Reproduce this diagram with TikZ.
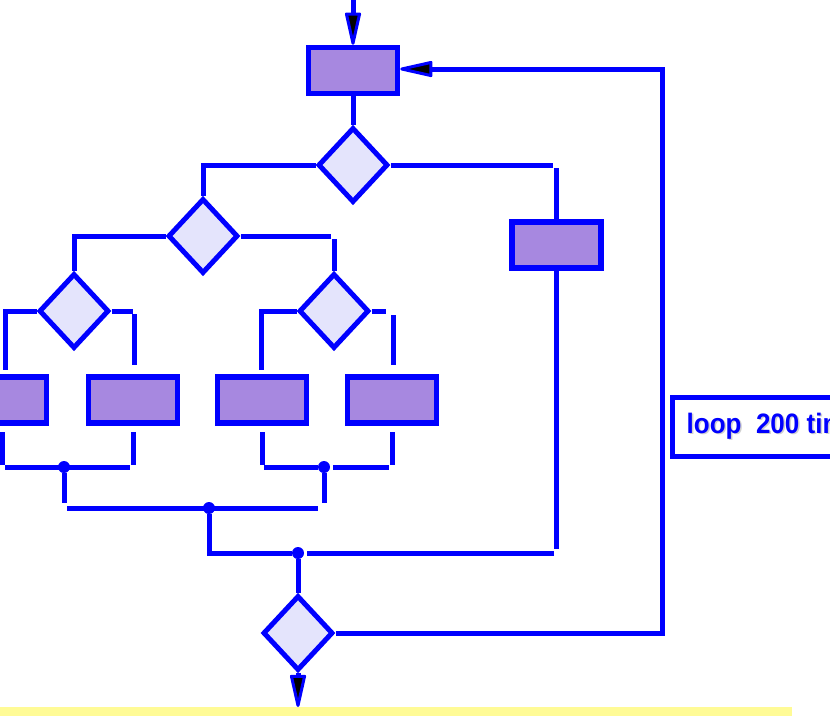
\documentclass[tikz,border=0pt]{standalone}
\usepackage{fontspec}
\setmainfont{Liberation Sans}
\usetikzlibrary{shapes.geometric,arrows.meta}
\definecolor{flowblue}{RGB}{0,0,255}
\definecolor{boxfill}{RGB}{167,136,224}
\definecolor{decfill}{RGB}{228,228,252}
\definecolor{barfill}{RGB}{255,251,150}

\begin{document}
\begin{tikzpicture}[x=1pt,y=-1pt,
  wire/.style={draw=flowblue, line width=5pt},
  procbox/.style={rectangle, draw=flowblue, fill=boxfill, line width=5.5pt,
    minimum width=89pt, minimum height=46pt, inner sep=0pt},
  decision/.style={diamond, draw=flowblue, fill=decfill, line width=5pt,
    minimum width=70pt, minimum height=75pt, inner sep=0pt},
  junction/.style={circle, fill=flowblue, minimum size=12pt, inner sep=0pt},
  tip/.style={-{Triangle[length=38pt,width=16pt,fill=black,line width=3pt,round]}},
  labelbox/.style={rectangle, draw=flowblue, line width=4.5pt, fill=white,
    minimum width=240pt, minimum height=59pt, inner sep=0pt},
  labeltext/.style={font=\fontsize{26}{30}\selectfont\bfseries, inner sep=0pt, yscale=1.08}
]
\useasboundingbox (0,0) rectangle (830,716);
\clip (0,0) rectangle (830,716);

% yellow strip along the bottom edge
\fill[barfill] (0,707) rectangle (792,716);

% process boxes
\node[procbox] (b0) at (353,70.5) {};
\node[procbox] (bR) at (556.5,245) {};
\node[procbox] (b1) at (2,400) {};
\node[procbox] (b2) at (133,400) {};
\node[procbox] (b3) at (262,400) {};
\node[procbox] (b4) at (392,400) {};

% decisions
\node[decision] (d1) at (353,165) {};
\node[decision] (d2) at (203,236) {};
\node[decision] (d3) at (74,311) {};
\node[decision] (d4) at (334,311) {};
\node[decision] (d5) at (298,633) {};

% junction dots
\node[junction] (j1) at (64,467) {};
\node[junction] (j2) at (324,467) {};
\node[junction] (j3) at (209,508) {};
\node[junction] (j5) at (298,553) {};

% free line ends and corners
\coordinate (in)  at (353,-2);
\coordinate (out) at (298,707);
\coordinate (r1) at (553,165);
\coordinate (r2) at (556.5,168);
\coordinate (r3) at (556.5,549);
\coordinate (r4) at (554,553);
\coordinate (r5) at (307,553);
\coordinate (e1) at (331,236);
\coordinate (e2) at (334,239);
\coordinate (a1) at (5,370);
\coordinate (a2) at (133,311);
\coordinate (a3) at (134,314);
\coordinate (a4) at (134,365);
\coordinate (a5) at (261,370);
\coordinate (a6) at (386,311);
\coordinate (a7) at (393,315);
\coordinate (a8) at (393,365);
\coordinate (h1) at (5,467);
\coordinate (h2) at (130,467);
\coordinate (h3) at (264,467);
\coordinate (h4) at (333,467);
\coordinate (h5) at (389,467);
\coordinate (m1) at (64,503);
\coordinate (m2) at (67,508);
\coordinate (m3) at (318,508);
\coordinate (m4) at (324,503);
\coordinate (loopB) at (662,633);
\coordinate (loopT) at (662,69);

% entry and main chain
\draw[wire,tip] (in) -- (b0.north);
\draw[wire] (b0.south) -- (d1.north);
\draw[wire] (d1.west) -| (d2.north);
\draw[wire] (d1.east) -- (r1);
\draw[wire] (r2) -- (bR.north);
\draw[wire] (bR.south) -- (r3);
\draw[wire] (r4) -- (r5);

% second level
\draw[wire] (d2.west) -| (d3.north);
\draw[wire] (d2.east) -- (e1);
\draw[wire] (e2) -- (d4.north);

% third level
\draw[wire] (d3.west) -| (a1);
\draw[wire] (d3.east) -- (a2);
\draw[wire] (a3) -- (a4);
\draw[wire] (d4.west) -| (a5);
\draw[wire] (d4.east) -- (a6);
\draw[wire] (a7) -- (a8);

% outputs of the four lower boxes
\foreach \b in {b1,b2,b3,b4}
  \draw[wire, shorten <=6.5pt] (\b.south) -- ++(0,39);
\draw[wire] (h1) -- (h2);
\draw[wire] (h3) -- (j2);
\draw[wire] (h4) -- (h5);

% merging
\draw[wire] (j1) -- (m1);
\draw[wire] (m2) -- (m3);
\draw[wire] (j2) -- (m4);
\draw[wire] (j3) |- (j5);
\draw[wire] (j5) -- (d5.north);

% exit and loop back
\draw[wire,tip] (d5.south) -- (out);
\draw[wire,tip] (d5.east) -- (loopB) -- (loopT) -- (b0.east |- loopT);

% loop label
\node[labelbox, anchor=north west] (lbl) at (670,395) {};
\node[labeltext, anchor=base west, text=black!30, opacity=0.6] (lblshadow) at (688,434.5) {loop\ \ 200 times};
\node[labeltext, anchor=base west, text=flowblue] (lbltext) at (686.5,433) {loop\ \ 200 times};
\end{tikzpicture}
\end{document}
